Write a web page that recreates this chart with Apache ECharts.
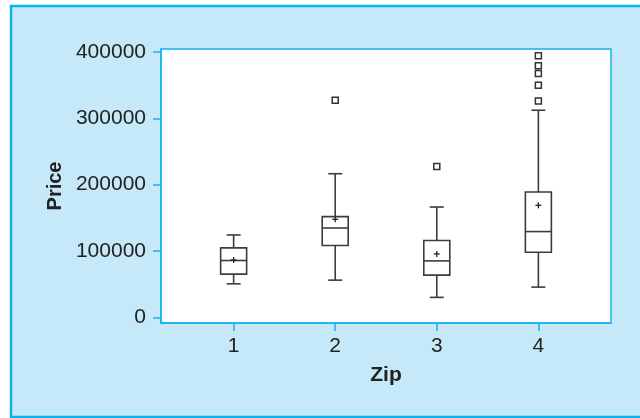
<!DOCTYPE html>
<html>
<head>
<meta charset="utf-8">
<script src="https://cdn.jsdelivr.net/npm/echarts@6/dist/echarts.min.js"></script>
<style>
html,body{margin:0;padding:0;background:#fff;}
#chart{width:640px;height:418px;}
</style>
</head>
<body>
<div id="chart"></div>
<script>
// ---- data ----
const zips = [1, 2, 3, 4];
const whiskerLow  = [50500, 56100, 30100, 45600];
const q1          = [65100, 108300, 63600, 98200];
const median      = [85700, 134700, 85100, 129300];
const q3          = [104700, 151900, 115800, 188900];
const whiskerHigh = [124200, 216500, 166300, 312200];
const means       = [86500, 147800, 95600, 168900];
const outliersZip2 = [327200];
const outliersZip3 = [227500];
const outliersZip4 = [394400, 379400, 367400, 349800, 326300];
const yTicks = [0, 100000, 200000, 300000, 400000];
const xTicks = [1, 2, 3, 4];

const boxRows = zips.map((z, i) => [z, whiskerLow[i], q1[i], median[i], q3[i], whiskerHigh[i], means[i]]);
const outlierRows = []
  .concat(outliersZip2.map(v => [2, v]))
  .concat(outliersZip3.map(v => [3, v]))
  .concat(outliersZip4.map(v => [4, v]));

const BLUE = '#1ab0ec';
const INK = '#3c3c3c';
const TXT = '#222';

const chart = echarts.init(document.getElementById('chart'), null, {renderer: 'canvas'});
chart.setOption({
  backgroundColor: '#fff',
  animation: false,
  graphic: [{
    type: 'rect', z: -100, silent: true,
    shape: {x: 11, y: 6, width: 640, height: 411},
    style: {fill: '#c6e9f9', stroke: '#0cb2ee', lineWidth: 2.5}
  }],
  grid: {
    left: 161, top: 49, width: 450, height: 274,
    show: true, backgroundColor: '#fff', borderColor: BLUE, borderWidth: 1.5
  },
  xAxis: {
    type: 'value', min: 0.285, max: 4.715,
    name: 'Zip', nameLocation: 'middle', nameGap: 42,
    nameTextStyle: {fontFamily: 'Liberation Sans', fontSize: 21, fontWeight: 'bold', color: TXT},
    splitLine: {show: false},
    axisLine: {show: true, onZero: false, lineStyle: {color: BLUE, width: 1.5}},
    axisTick: {show: true, length: 8, customValues: xTicks, lineStyle: {color: BLUE, width: 1.5}},
    axisLabel: {customValues: xTicks, margin: 13, fontFamily: 'Liberation Sans', fontSize: 21, color: TXT,
      formatter: v => String(v)}
  },
  yAxis: {
    type: 'value', min: -8500, max: 404500,
    name: 'Price', nameLocation: 'middle', nameGap: 95,
    nameTextStyle: {fontFamily: 'Liberation Sans', fontSize: 20, fontWeight: 'bold', color: TXT},
    splitLine: {show: false},
    axisLine: {show: true, onZero: false, lineStyle: {color: BLUE, width: 1.5}},
    axisTick: {show: true, length: 8, customValues: yTicks, lineStyle: {color: BLUE, width: 1.5}},
    axisLabel: {customValues: yTicks, margin: 15, fontFamily: 'Liberation Sans', fontSize: 21, color: TXT,
      formatter: v => String(Math.round(v))}
  },
  series: [{
    type: 'custom',
    data: boxRows,
    encode: {x: 0, y: [1, 2, 3, 4, 5]},
    renderItem: function (params, api) {
      const x = api.value(0);
      const pLo = api.coord([x, api.value(1)]);
      const pQ1 = api.coord([x, api.value(2)]);
      const pMed = api.coord([x, api.value(3)]);
      const pQ3 = api.coord([x, api.value(4)]);
      const pHi = api.coord([x, api.value(5)]);
      const pMean = api.coord([x, api.value(6)]);
      const cx = pLo[0];
      const bw = 13, cw = 7, mw = 3;
      const ls = {stroke: INK, lineWidth: 1.6, fill: null};
      const line = (x1, y1, x2, y2, st) => ({type: 'line', shape: {x1, y1, x2, y2}, style: st || ls});
      return {
        type: 'group',
        children: [
          line(cx, pLo[1], cx, pQ1[1]),
          line(cx, pQ3[1], cx, pHi[1]),
          line(cx - cw, pLo[1], cx + cw, pLo[1]),
          line(cx - cw, pHi[1], cx + cw, pHi[1]),
          {type: 'rect', shape: {x: cx - bw, y: pQ3[1], width: 2 * bw, height: pQ1[1] - pQ3[1]},
           style: {stroke: INK, lineWidth: 1.6, fill: '#fff'}},
          line(cx - bw, pMed[1], cx + bw, pMed[1]),
          line(cx - mw, pMean[1], cx + mw, pMean[1], {stroke: '#222', lineWidth: 1.3}),
          line(cx, pMean[1] - mw, cx, pMean[1] + mw, {stroke: '#222', lineWidth: 1.3})
        ]
      };
    }
  }, {
    type: 'scatter',
    data: outlierRows,
    symbol: 'rect',
    symbolSize: 6,
    itemStyle: {color: '#fff', borderColor: '#333', borderWidth: 1.5, opacity: 1}
  }]
});
</script>
</body>
</html>
